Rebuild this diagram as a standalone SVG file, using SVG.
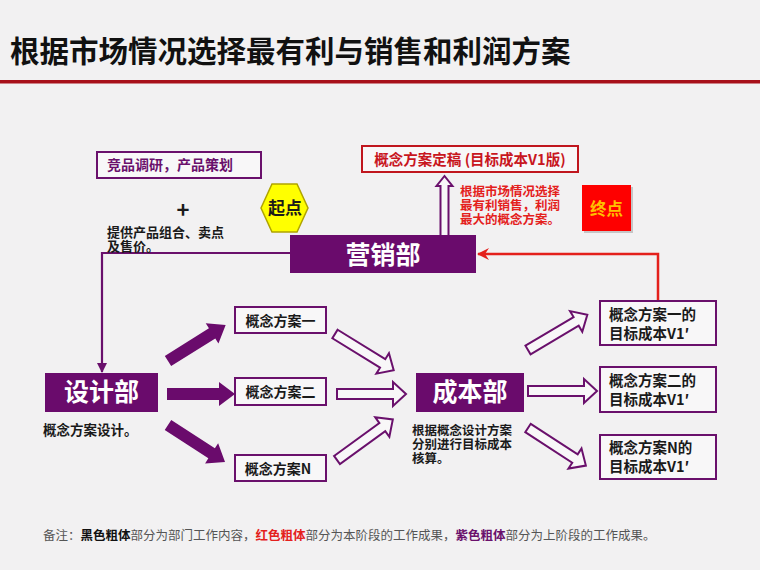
<svg xmlns="http://www.w3.org/2000/svg" width="760" height="570" viewBox="0 0 760 570">
<style>
text{font-family:"Noto Sans CJK SC","Noto Sans CJK JP","Noto Sans",sans-serif}
.b{font-weight:700}
.box{fill:#f8f7f8;stroke:#6a106c;stroke-width:2}
.pbox{fill:#6a0b6c}
.wt{fill:#ffffff;font-weight:700;font-size:25px;text-anchor:middle}
.bk{fill:#1a1a1a;font-weight:700}
.rd{fill:#e4201c;font-weight:700}
.farrow{fill:#6a0b6c}
.harrow{fill:#f8f7f8;stroke:#6a106c;stroke-width:2;stroke-linejoin:miter}
</style>
<defs>
<path id="fa" d="M0,-6 H52 V-12 L68,0 L52,12 V6 H0 Z"/>
<path id="ha" d="M0,-5 H56 V-12 L69,0 L56,12 V5 H0 Z"/>
<marker id="mp" markerWidth="10" markerHeight="10" refX="9" refY="5" orient="auto" markerUnits="userSpaceOnUse">
<path d="M0,0 L10,5 L0,10 Z" fill="#6a106c"/>
</marker>
<marker id="mr" markerWidth="12" markerHeight="12" refX="11" refY="6" orient="auto" markerUnits="userSpaceOnUse">
<path d="M0,0 L12,6 L0,12 L4,6 Z" fill="#e4201c"/>
</marker>
</defs>
<rect width="760" height="570" fill="#f2f1f2"/>

<g id="title">
<text x="10" y="62" class="b" font-size="29.5" fill="#111">根据市场情况选择最有利与销售和利润方案</text>
<rect x="0" y="80" width="760" height="3.5" fill="#a8101a"/>
</g>

<g id="connectors">
<polyline points="290,253 102,253 102,372" fill="none" stroke="#6a106c" stroke-width="2.2" marker-end="url(#mp)"/>
<polyline points="658,301 658,254 478,254" fill="none" stroke="#e4201c" stroke-width="2.5" marker-end="url(#mr)"/>
<path class="harrow" d="M440.5,235 V186 H436.5 L444.5,176 L452.5,186 H448.5 V235"/>
<use href="#fa" class="farrow" transform="translate(168,361) rotate(-32)"/>
<use href="#fa" class="farrow" transform="translate(167,394)"/>
<use href="#fa" class="farrow" transform="translate(168,425) rotate(33)"/>
<use href="#ha" class="harrow" transform="translate(335,334) rotate(31.7)"/>
<use href="#ha" class="harrow" transform="translate(337,394)"/>
<use href="#ha" class="harrow" transform="translate(337,460) rotate(-36)"/>
<use href="#ha" class="harrow" transform="translate(528,350) rotate(-30.7)"/>
<use href="#ha" class="harrow" transform="translate(528,391)"/>
<use href="#ha" class="harrow" transform="translate(528,428) rotate(33)"/>
</g>

<g id="research">
<rect x="97" y="152" width="164" height="26" class="box"/>
<text x="107" y="170" font-size="14" class="b" fill="#6a106c">竞品调研，产品策划</text>
</g>

<g id="provide">
<text x="183" y="218" font-size="22" class="b" text-anchor="middle" fill="#1a1a1a">+</text>
<text font-size="13" class="bk"><tspan x="107" y="237">提供产品组合、卖点</tspan><tspan x="107" y="251">及售价。</tspan></text>
</g>

<g id="start">
<polygon points="261,208 272,184 297,184 308,208 297,232 272,232" fill="#ffff00" stroke="#b0a400" stroke-width="1.5"/>
<text x="285" y="214" font-size="17" class="bk" text-anchor="middle">起点</text>
</g>

<g id="marketing">
<rect x="290" y="235" width="186" height="38" class="pbox"/>
<text x="383" y="264" class="wt" font-size="26">营销部</text>
</g>

<g id="final">
<rect x="362" y="146" width="216" height="26" fill="#f8f7f8" stroke="#c0161e" stroke-width="2"/>
<text x="470" y="165" font-size="14.5" class="b" fill="#c8161e" text-anchor="middle">概念方案定稿 (目标成本V1版)</text>
</g>

<g id="note">
<text font-size="12.5" class="rd"><tspan x="460" y="196">根据市场情况选择</tspan><tspan x="460" y="210">最有利销售，利润</tspan><tspan x="460" y="224">最大的概念方案。</tspan></text>
</g>

<g id="end">
<rect x="584" y="187" width="49" height="46" fill="#999" opacity="0.5"/>
<rect x="582" y="185" width="49" height="46" fill="#fe0000"/>
<text x="606.5" y="215" font-size="16.5" class="b" fill="#ffc000" text-anchor="middle">终点</text>
</g>

<g id="design">
<rect x="45" y="373" width="113" height="39" class="pbox"/>
<text x="101.5" y="401" class="wt">设计部</text>
<text x="43" y="435" font-size="13.5" class="bk">概念方案设计。</text>
</g>

<g id="concept1">
<rect x="235" y="307" width="91" height="26" class="box"/>
<text x="280.5" y="326" font-size="14" class="bk" text-anchor="middle">概念方案一</text>
</g>
<g id="concept2">
<rect x="235" y="378" width="91" height="27" class="box"/>
<text x="280.5" y="397" font-size="14" class="bk" text-anchor="middle">概念方案二</text>
</g>
<g id="conceptN">
<rect x="235" y="455" width="91" height="26" class="box"/>
<text x="278" y="474" font-size="14" class="bk" text-anchor="middle">概念方案N</text>
</g>

<g id="cost">
<rect x="416" y="373" width="108" height="39" class="pbox"/>
<text x="470" y="401" class="wt">成本部</text>
<text font-size="12.5" class="bk"><tspan x="412" y="435">根据概念设计方案</tspan><tspan x="412" y="449">分别进行目标成本</tspan><tspan x="412" y="463">核算。</tspan></text>
</g>

<g id="target1">
<rect x="600" y="301" width="116" height="44" class="box"/>
<text font-size="14.5" class="bk"><tspan x="609" y="320">概念方案一的</tspan><tspan x="609" y="339">目标成本V1′</tspan></text>
</g>
<g id="target2">
<rect x="600" y="367" width="116" height="45" class="box"/>
<text font-size="14.5" class="bk"><tspan x="609" y="386">概念方案二的</tspan><tspan x="609" y="405">目标成本V1′</tspan></text>
</g>
<g id="targetN">
<rect x="600" y="435" width="116" height="44" class="box"/>
<text font-size="14.5" class="bk"><tspan x="609" y="453">概念方案N的</tspan><tspan x="609" y="472">目标成本V1′</tspan></text>
</g>

<g id="footer">
<text x="43" y="540" font-size="12.5" fill="#555">备注：<tspan class="b" fill="#111">黑色粗体</tspan>部分为部门工作内容，<tspan class="b" fill="#e4201c">红色粗体</tspan>部分为本阶段的工作成果，<tspan class="b" fill="#6a106c">紫色粗体</tspan>部分为上阶段的工作成果。</text>
</g>
</svg>
